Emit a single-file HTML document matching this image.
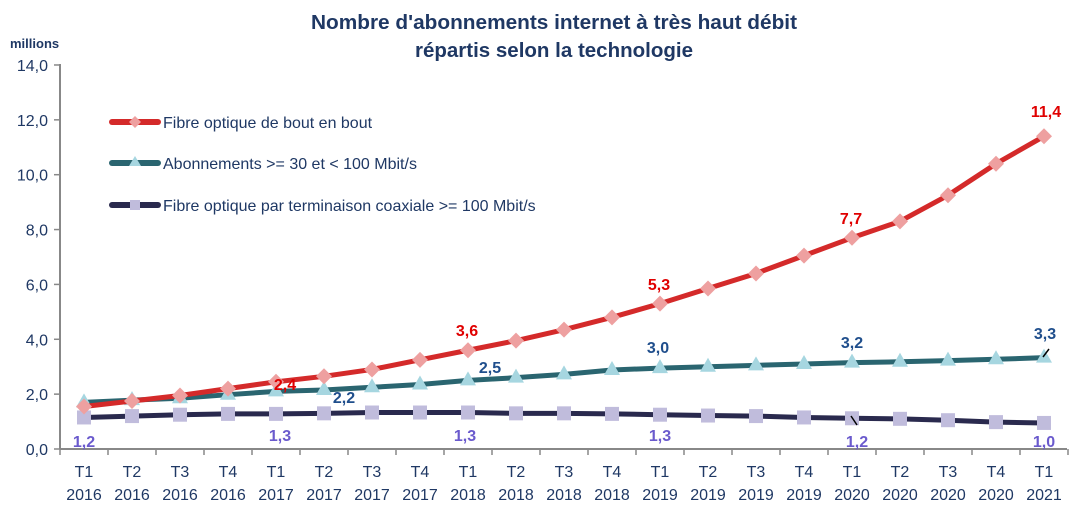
<!DOCTYPE html>
<html><head><meta charset="utf-8"><style>
body{margin:0;background:#fff;}
svg{display:block;font-family:"Liberation Sans",Calibri,sans-serif;}
</style></head><body>
<svg id="s" width="1083" height="514" viewBox="0 0 1083 514" xmlns="http://www.w3.org/2000/svg">
<text x="554" y="29" text-anchor="middle" font-size="20" font-weight="bold" fill="#1f3864" textLength="486" lengthAdjust="spacingAndGlyphs">Nombre d'abonnements internet à très haut débit</text>
<text x="554" y="57" text-anchor="middle" font-size="20" font-weight="bold" fill="#1f3864" textLength="278" lengthAdjust="spacingAndGlyphs">répartis selon la technologie</text>
<text x="10" y="48" font-size="13" font-weight="bold" fill="#1f3864">millions</text>
<g id="g"></g>
</svg>
<script>
var g=document.getElementById('g'),h='';
function Y(v){return 449-v*27.43;}
function X(i){return 84+i*48;}
h+='<line x1="60" y1="64" x2="60" y2="449" stroke="#888" stroke-width="2"/>';
h+='<line x1="60" y1="449" x2="1067" y2="449" stroke="#888" stroke-width="2"/>';
for(var v=0;v<=14;v+=2){h+='<line x1="54" y1="'+Y(v)+'" x2="60" y2="'+Y(v)+'" stroke="#888" stroke-width="1.5"/>';
h+='<text x="48" y="'+(Y(v)+6)+'" text-anchor="end" font-size="16" fill="#1f3864">'+v.toFixed(1).replace('.',',')+'</text>';}
for(var i=0;i<=21;i++){var x=60+i*48;h+='<line x1="'+x+'" y1="449" x2="'+x+'" y2="455" stroke="#888" stroke-width="1.5"/>';}
for(var i=0;i<21;i++){var q='T'+(i%4+1),yr=2016+Math.floor(i/4);
h+='<text x="'+X(i)+'" y="477" text-anchor="middle" font-size="16" fill="#1f3864">'+q+'</text>';
h+='<text x="'+X(i)+'" y="500" text-anchor="middle" font-size="16" fill="#1f3864">'+yr+'</text>';}
var red=[1.55,1.75,1.95,2.2,2.45,2.65,2.9,3.25,3.6,3.95,4.35,4.8,5.3,5.85,6.4,7.05,7.7,8.3,9.25,10.4,11.4];
var teal=[1.7,1.78,1.85,1.98,2.1,2.15,2.25,2.35,2.5,2.6,2.72,2.88,2.95,3.0,3.05,3.1,3.15,3.18,3.22,3.27,3.33];
var dk=[1.15,1.2,1.25,1.28,1.28,1.3,1.33,1.33,1.33,1.3,1.3,1.28,1.25,1.22,1.2,1.15,1.12,1.1,1.05,0.98,0.95];
function line(d,c){var p=d.map(function(v,i){return X(i)+','+Y(v)}).join(' ');return '<polyline points="'+p+'" fill="none" stroke="'+c+'" stroke-width="5" stroke-linejoin="round"/>';}
h+=line(dk,'#2a2a4e');
dk.forEach(function(v,i){h+='<rect x="'+(X(i)-7)+'" y="'+(Y(v)-7)+'" width="14" height="14" fill="#c0bcdc"/>';});
h+=line(teal,'#2a6570');
teal.forEach(function(v,i){var x=X(i),y=Y(v);h+='<polygon points="'+x+','+(y-9)+' '+(x-8)+','+(y+5)+' '+(x+8)+','+(y+5)+'" fill="#a6d6e0"/>';});
h+=line(red,'#d42a2a');
red.forEach(function(v,i){var x=X(i),y=Y(v);h+='<polygon points="'+x+','+(y-8)+' '+(x+8)+','+y+' '+x+','+(y+8)+' '+(x-8)+','+y+'" fill="#eea0a0"/>';});
function t(x,y,s,c){h+='<text x="'+x+'" y="'+y+'" text-anchor="middle" font-size="16" font-weight="bold" fill="'+c+'">'+s+'</text>';}
var R='#e00000',B='#1f4e8c',P='#6a5acd';
t(285,390,'2,4',R);t(467,336,'3,6',R);t(659,290,'5,3',R);t(851,224,'7,7',R);t(1046,117,'11,4',R);
t(344,403,'2,2',B);t(490,373,'2,5',B);t(658,353,'3,0',B);t(852,348,'3,2',B);t(1045,339,'3,3',B);
t(84,447,'1,2',P);t(280,441,'1,3',P);t(465,441,'1,3',P);t(660,441,'1,3',P);t(857,447,'1,2',P);t(1044,447,'1,0',P);
h+='<line x1="1043" y1="357" x2="1049" y2="349" stroke="#000" stroke-width="1.5"/>';
h+='<line x1="851" y1="416" x2="857" y2="425" stroke="#000" stroke-width="1.5"/>';
function lg(y,c,m,txt){h+='<line x1="112" y1="'+y+'" x2="158" y2="'+y+'" stroke="'+c+'" stroke-width="6" stroke-linecap="round"/>'+m+'<text x="163" y="'+(y+6)+'" font-size="16" fill="#1f3864">'+txt+'</text>';}
lg(122,'#d42a2a','<polygon points="135,116 141,122 135,128 129,122" fill="#eea0a0"/>','Fibre optique de bout en bout');
lg(163,'#2a6570','<polygon points="135,156 129,166 141,166" fill="#a6d6e0"/>','Abonnements &gt;= 30 et &lt; 100 Mbit/s');
lg(205,'#2a2a4e','<rect x="130" y="200" width="10" height="10" fill="#c0bcdc"/>','Fibre optique par terminaison coaxiale &gt;= 100 Mbit/s');
g.innerHTML=h;
</script>
</body></html>
